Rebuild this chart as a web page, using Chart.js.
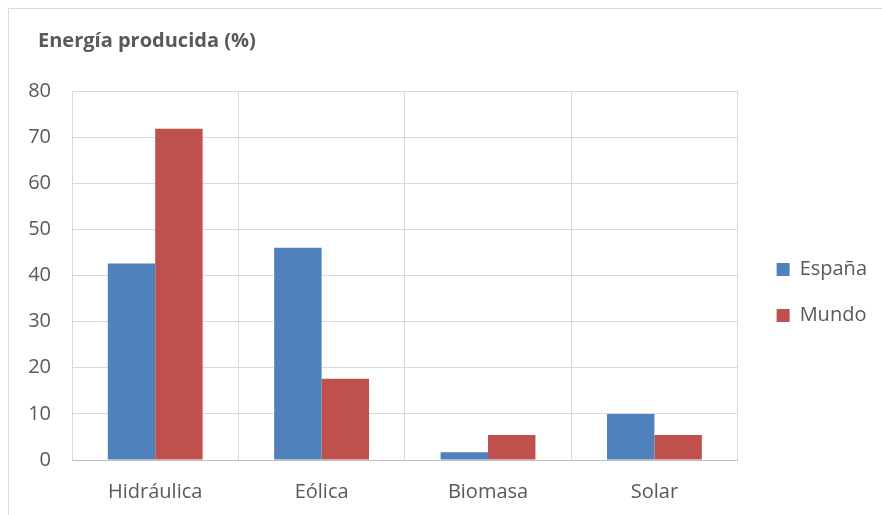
<!DOCTYPE html>
<html>
<head>
<meta charset="utf-8">
<script src="https://cdn.jsdelivr.net/npm/chart.js@4.4.1/dist/chart.umd.min.js"></script>
<style>
    html, body { margin: 0; padding: 0; background: #ffffff; }
    #wrap { position: relative; width: 882px; height: 515px; }
</style>
</head>
<body>
<div id="wrap"><canvas id="chart" width="882" height="515"></canvas></div>
<script>
// Chart data
const categories = ['Hidráulica', 'Eólica', 'Biomasa', 'Solar'];
const espana = [42.6, 46.0, 1.7, 10.0];
const mundo = [71.8, 17.6, 5.4, 5.4];
const yTicks = [0, 10, 20, 30, 40, 50, 60, 70, 80];

const textColor = '#595959';
const gridColor = '#d9d9d9';

// Outer frame of the chart object + small position tweaks for title / legend
const framePlugin = {
    id: 'frame',
    afterLayout: (chart) => {
        if (chart.titleBlock) {
            chart.titleBlock.left += 11;
            chart.titleBlock.right += 11;
        }
        if (chart.legend) {
            chart.legend.left += 13;
            chart.legend.right += 13;
            chart.legend.top += 26;
            chart.legend.bottom += 26;
        }
    },
    beforeDraw: (chart) => {
        const ctx = chart.ctx;
        ctx.save();
        ctx.strokeStyle = gridColor;
        ctx.lineWidth = 1;
        ctx.beginPath();
        ctx.moveTo(8.5, chart.height);
        ctx.lineTo(8.5, 8.5);
        ctx.lineTo(chart.width, 8.5);
        ctx.stroke();
        ctx.restore();
    }
};

Chart.defaults.font.family = "'Open Sans', sans-serif";
Chart.defaults.color = textColor;

new Chart(document.getElementById('chart').getContext('2d'), {
    type: 'bar',
    data: {
        labels: categories,
        datasets: [
            {
                label: 'España',
                data: espana,
                backgroundColor: '#4f81bd',
                categoryPercentage: 0.57,
                barPercentage: 1.0
            },
            {
                label: 'Mundo',
                data: mundo,
                backgroundColor: '#c0504d',
                categoryPercentage: 0.57,
                barPercentage: 1.0
            }
        ]
    },
    options: {
        responsive: false,
        animation: false,
        layout: {
            padding: { left: 27, top: 29, right: 18, bottom: 11 }
        },
        plugins: {
            title: {
                display: true,
                text: 'Energía producida (%)',
                align: 'start',
                color: textColor,
                font: { size: 20, weight: 'bold' },
                padding: { top: 0, bottom: 38 }
            },
            legend: {
                position: 'right',
                labels: {
                    boxWidth: 13,
                    boxHeight: 13,
                    padding: 26,
                    color: textColor,
                    font: { size: 20 }
                }
            },
            tooltip: { enabled: false }
        },
        scales: {
            x: {
                afterFit: (scale) => {
                    scale.height = 44;
                },
                grid: {
                    color: gridColor,
                    drawTicks: false
                },
                border: { color: '#bfbfbf' },
                ticks: {
                    padding: 20,
                    font: { size: 20 }
                }
            },
            y: {
                min: 0,
                max: 80,
                afterBuildTicks: (scale) => {
                    scale.ticks = yTicks.map(v => ({ value: v }));
                },
                afterFit: (scale) => {
                    scale.width = 45;
                },
                grid: {
                    color: gridColor,
                    drawTicks: false
                },
                border: { color: gridColor },
                ticks: {
                    padding: 21,
                    font: { size: 20 }
                }
            }
        }
    },
    plugins: [framePlugin]
});
</script>
</body>
</html>
